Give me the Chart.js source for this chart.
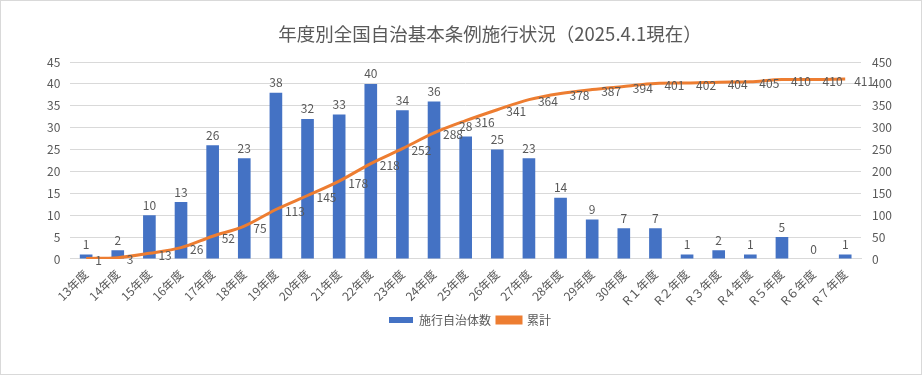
<!DOCTYPE html>
<html>
<head>
<meta charset="utf-8">
<script src="https://cdn.jsdelivr.net/npm/chart.js@4/dist/chart.umd.min.js"></script>
<style>
  html, body { margin: 0; padding: 0; background: #fff; }
  #wrap { position: relative; width: 920px; height: 373px; border: 1px solid #d9d9d9; }
</style>
</head>
<body>
<div id="wrap"><canvas id="c" width="920" height="373"></canvas></div>
<script>
const categories = [
  "13年度", "14年度", "15年度", "16年度", "17年度", "18年度", "19年度", "20年度",
  "21年度", "22年度", "23年度", "24年度", "25年度", "26年度", "27年度", "28年度",
  "29年度", "30年度", "R１年度", "R２年度", "R３年度", "R４年度", "R５年度", "R６年度", "R７年度",
];
const annual = [1, 2, 10, 13, 26, 23, 38, 32, 33, 40, 34, 36, 28, 25, 23, 14, 9, 7, 7, 1, 2, 1, 5, 0, 1];
const cumulative = [1, 3, 13, 26, 52, 75, 113, 145, 178, 218, 252, 288, 316, 341, 364, 378, 387, 394, 401, 402, 404, 405, 410, 410, 411];
const TITLE = "年度別全国自治基本条例施行状況（2025.4.1現在）";

const FONT = '"Noto Sans CJK JP", "Noto Sans", sans-serif';
const GRAY = "#595959";

// data labels (bars above, line points to the right) + title drawn off-centre like the original
const labelPlugin = {
  id: "labels",
  afterDatasetsDraw(chart) {
    const ctx = chart.ctx;
    ctx.save();
    ctx.font = "12px " + FONT;
    ctx.fillStyle = GRAY;
    chart.getDatasetMeta(0).data.forEach((bar, i) => {
      ctx.textAlign = "center";
      ctx.textBaseline = "bottom";
      ctx.fillText(annual[i], bar.x, bar.y - 4);
    });
    chart.getDatasetMeta(1).data.forEach((pt, i) => {
      ctx.textAlign = "left";
      ctx.textBaseline = "middle";
      ctx.fillText(cumulative[i], pt.x + 9, pt.y + 2);
    });
    ctx.font = "18.5px " + FONT;
    ctx.textAlign = "center";
    ctx.fillText(TITLE, 489, 33);
    ctx.restore();
  },
};

new Chart(document.getElementById("c"), {
  data: {
    labels: categories,
    datasets: [
      {
        type: "bar",
        label: "施行自治体数",
        data: annual,
        backgroundColor: "#4472C4",
        yAxisID: "y",
        barPercentage: 0.4,
        categoryPercentage: 1,
        order: 2,
      },
      {
        type: "line",
        label: "累計",
        data: cumulative,
        borderColor: "#ED7D31",
        backgroundColor: "#ED7D31",
        borderWidth: 3,
        pointRadius: 0,
        cubicInterpolationMode: "monotone",
        yAxisID: "y1",
        order: 1,
      },
    ],
  },
  plugins: [labelPlugin],
  options: {
    responsive: false,
    animation: false,
    layout: { padding: { left: 36, right: 18, top: 61, bottom: 38 } },
    plugins: {
      title: { display: false },
      legend: {
        position: "bottom",
        labels: {
          color: GRAY,
          font: { family: FONT, size: 12 },
          boxWidth: 24,
          boxHeight: 6,
          padding: 6,
          sort: (a, b) => a.datasetIndex - b.datasetIndex,
        },
      },
      tooltip: { enabled: false },
    },
    scales: {
      x: {
        grid: { display: false },
        border: { color: "#d9d9d9" },
        ticks: { color: GRAY, font: { family: FONT, size: 12 }, minRotation: 45, maxRotation: 45, autoSkip: false, padding: 0 },
      },
      y: {
        position: "left",
        min: 0,
        max: 45,
        ticks: { stepSize: 5, color: GRAY, font: { family: FONT, size: 12 }, padding: 10 },
        grid: { color: "#d9d9d9", drawTicks: false },
        border: { display: false },
      },
      y1: {
        position: "right",
        min: 0,
        max: 450,
        ticks: { stepSize: 50, color: GRAY, font: { family: FONT, size: 12 }, padding: 11 },
        grid: { display: false, drawTicks: false },
        border: { display: false },
      },
    },
  },
});
</script>
</body>
</html>
